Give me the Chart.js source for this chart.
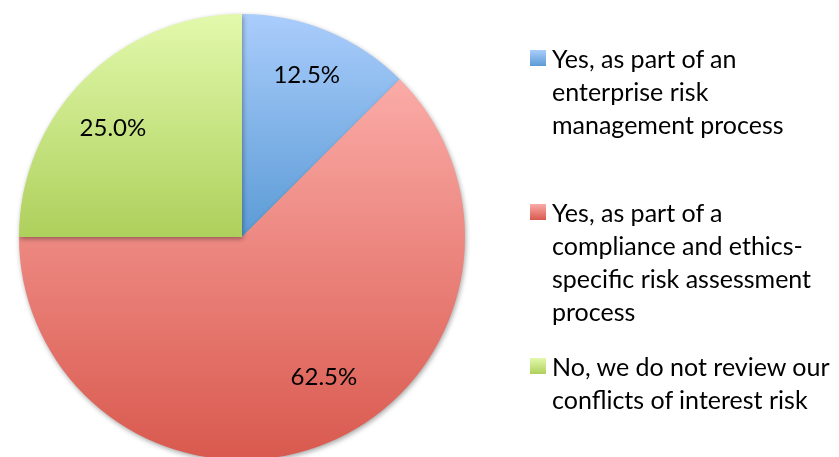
<!DOCTYPE html>
<html>
<head>
<meta charset="utf-8">
<script src="https://cdn.jsdelivr.net/npm/chart.js@4/dist/chart.umd.min.js"></script>
<style>
    html, body { margin: 0; padding: 0; background: #fff; overflow: hidden; }
    #wrap { position: absolute; left: 0; top: 0; width: 839px; height: 462px; }
    #legend { font-family: Lato, 'Open Sans', sans-serif; font-size: 25px; color: #000; }
    .item { position: absolute; left: 530px; padding-left: 22px; line-height: 33px; white-space: nowrap; }
    .box { position: absolute; left: 0; top: 8px; width: 16px; height: 16px; }
</style>
</head>
<body>
<div id="wrap"><canvas id="pieChart"></canvas></div>
<div id="legend"></div>
<script>
        // Data
        const categories = [
            ['Yes, as part of an', 'enterprise risk', 'management process'],
            ['Yes, as part of a', 'compliance and ethics-', 'specific risk assessment', 'process'],
            ['No, we do not review our', 'conflicts of interest risk']
        ];
        const shares = [12.5, 62.5, 25.0];
        // top / bottom colours of each slice's gradient
        const topColors = ['#aacdfc', '#fbaba7', '#e2f9ac'];
        const bottomColors = ['#5b9bd5', '#d9594e', '#aed05c'];

        // label placement (radius fraction, degrees off the slice middle)
        const labelRadius = [0.785, 0.726, 0.758];
        const labelShift = [-0.8, -7.9, -4.8];
        const legendTops = [42, 196, 350];

        // Build legend
        const legend = document.getElementById('legend');
        categories.forEach((lines, i) => {
            const item = document.createElement('div');
            item.className = 'item';
            item.style.top = legendTops[i] + 'px';
            item.innerHTML = `<span class="box" style="background:linear-gradient(${topColors[i]}, ${bottomColors[i]})"></span>` + lines.join('<br>');
            legend.appendChild(item);
        });

        const total = shares.reduce((a, b) => a + b, 0);

        // vertical gradient over each slice's own height
        function sliceGradient(context) {
            const chart = context.chart;
            const area = chart.chartArea;
            const i = context.dataIndex;
            if (!area) return bottomColors[i];
            const cy = (area.top + area.bottom) / 2;
            const r = Math.min(area.right - area.left, area.bottom - area.top) / 2;
            const before = shares.slice(0, i).reduce((a, b) => a + b, 0);
            const start = -Math.PI / 2 + before / total * Math.PI * 2;
            const end = start + shares[i] / total * Math.PI * 2;
            const pts = [start, end];
            for (let a = -Math.PI * 2.5; a <= Math.PI * 2.5; a += Math.PI / 2) {
                if (a > start && a < end) pts.push(a);
            }
            let top = cy, bottom = cy;
            pts.forEach(a => {
                const py = cy + Math.sin(a) * r;
                top = Math.min(top, py);
                bottom = Math.max(bottom, py);
            });
            const g = chart.ctx.createLinearGradient(0, top, 0, bottom);
            g.addColorStop(0, topColors[i]);
            g.addColorStop(1, bottomColors[i]);
            return g;
        }

        // percentage labels inside slices
        const valueLabels = {
            id: 'valueLabels',
            afterDatasetsDraw(chart) {
                const ctx = chart.ctx;
                ctx.save();
                ctx.font = '24px Lato, "Open Sans", sans-serif';
                ctx.fillStyle = '#000';
                ctx.textAlign = 'center';
                ctx.textBaseline = 'alphabetic';
                chart.getDatasetMeta(0).data.forEach((arc, i) => {
                    const mid = (arc.startAngle + arc.endAngle) / 2 + labelShift[i] * Math.PI / 180;
                    const r = arc.outerRadius * labelRadius[i];
                    ctx.fillText(shares[i].toFixed(1) + '%', arc.x + Math.cos(mid) * r, arc.y + Math.sin(mid) * r + 8.5);
                });
                ctx.restore();
            }
        };

        // soft drop shadow under the pie
        const pieShadow = {
            id: 'pieShadow',
            beforeDatasetsDraw(chart) {
                const ctx = chart.ctx;
                ctx.save();
                ctx.shadowColor = 'rgba(0,0,0,0.35)';
                ctx.shadowBlur = 5;
                ctx.shadowOffsetX = 1;
                ctx.shadowOffsetY = 2;
            },
            afterDatasetsDraw(chart) {
                chart.ctx.restore();
            }
        };

        new Chart(document.getElementById('pieChart'), {
            type: 'pie',
            data: {
                labels: categories.map(l => l.join(' ')),
                datasets: [{
                    data: shares,
                    backgroundColor: sliceGradient,
                    borderWidth: 0
                }]
            },
            options: {
                responsive: true,
                maintainAspectRatio: false,
                animation: false,
                layout: { padding: { left: 19, top: 14, bottom: 2, right: 374 } },
                plugins: {
                    legend: { display: false },
                    tooltip: { enabled: false }
                }
            },
            plugins: [pieShadow, valueLabels]
        });
</script>
</body>
</html>
